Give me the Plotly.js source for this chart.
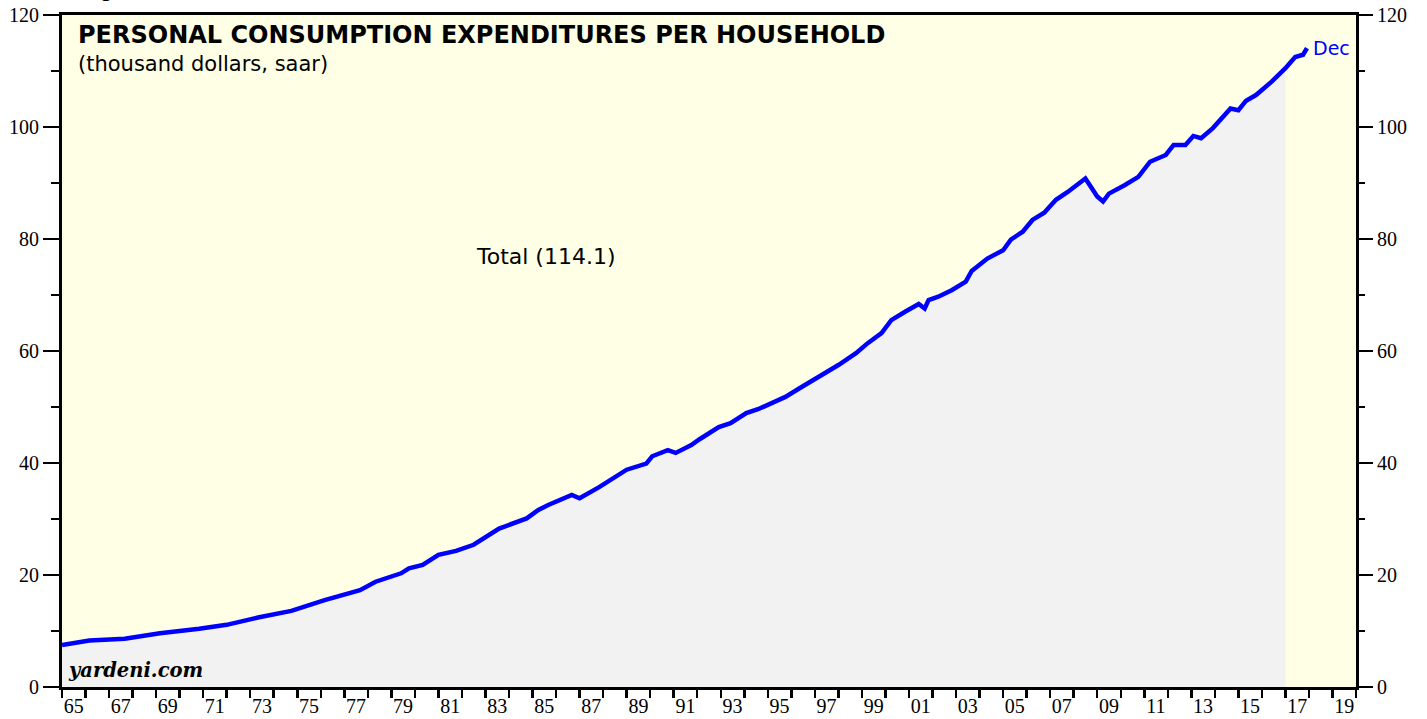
<!DOCTYPE html>
<html>
<head>
<meta charset="utf-8">
<script src="https://cdn.plot.ly/plotly-3.0.1.min.js"></script>
<style>html,body{margin:0;padding:0;background:#fff;}#chart{width:1427px;height:719px;}</style>
</head>
<body>
<div id="chart"></div>
<script>
const dates = [
"1965-01","1966-03","1967-09","1969-03","1970-11","1972-01","1973-05","1974-10","1976-03","1977-09",
"1978-05","1979-06","1979-10","1980-05","1981-01","1981-10","1982-07","1983-08","1984-10","1985-04",
"1985-09","1986-09","1987-01","1987-11","1989-01","1989-11","1990-02","1990-10","1991-02","1991-10",
"1992-02","1992-12","1993-06","1994-02","1994-08","1995-03","1995-10","1996-05","1997-03","1998-01",
"1998-10","1999-04","1999-11","2000-04","2000-11","2001-06","2001-09","2001-11","2002-04","2002-11",
"2003-06","2003-09","2004-05","2005-01","2005-05","2005-11","2006-04","2006-10","2007-04","2007-10",
"2008-07","2009-01","2009-04","2009-07","2010-03","2010-10","2011-04","2011-12","2012-04","2012-10",
"2013-02","2013-06","2013-12","2014-05","2014-09","2015-01","2015-05","2015-10","2016-06","2017-01",
"2017-06","2017-10","2017-12"];
const totalValues = [
7.5,8.3,8.6,9.6,10.4,11.1,12.4,13.6,15.5,17.3,
18.8,20.3,21.2,21.8,23.6,24.3,25.4,28.3,30.1,31.6,
32.5,34.3,33.7,35.7,38.8,39.9,41.2,42.3,41.8,43.2,
44.2,46.4,47.1,48.9,49.6,50.7,51.8,53.3,55.3,57.5,
59.6,61.4,63.2,65.5,67.0,68.4,67.6,69.1,69.7,70.9,
72.4,74.3,76.5,78.0,79.9,81.3,83.4,84.7,87.0,88.4,
90.8,87.6,86.7,88.1,89.6,91.1,93.8,95.0,96.8,96.8,
98.4,98.0,99.8,101.7,103.3,103.0,104.7,105.7,108.1,110.5,
112.5,112.9,114.1];
// shaded area ends at this date
const shadeEnd = "2017-01";
const yearStart = 1965, yearEnd = 2020;
const yTicks = [0,20,40,60,80,100,120];
const lastLabel = "Dec";
const seriesLabel = "Total (114.1)";

const shadeIdx = dates.indexOf(shadeEnd);
const shadeX = dates.slice(0, shadeIdx + 1);
const shadeY = totalValues.slice(0, shadeIdx + 1);

const yearTicks = [], labelTicks = [], labelText = [];
for (let y = yearStart; y <= yearEnd; y++) {
  yearTicks.push(y + "-01-01");
  if (y % 2 === 1 && y < yearEnd) {
    labelTicks.push(y + "-07-02");
    labelText.push(String(y % 100).padStart(2, "0"));
  }
}
const xRange = [yearStart + "-01-01", yearEnd + "-01-01"];

const tickFont = {family: "Liberation Serif, Times New Roman, serif", size: 20, color: "#000"};
const sans = "DejaVu Sans, Liberation Sans, Arial, sans-serif";

const traces = [
  {x: shadeX, y: shadeY, type: "scatter", mode: "lines", fill: "tozeroy",
   fillcolor: "#f2f2f2", line: {width: 0, color: "rgba(0,0,0,0)"}, hoverinfo: "skip",
   xaxis: "x", yaxis: "y", showlegend: false},
  {x: dates, y: totalValues, type: "scatter", mode: "lines",
   line: {color: "#0000ff", width: 4.5}, xaxis: "x2", yaxis: "y2", showlegend: false}
];

const layout = {
  width: 1427, height: 719,
  margin: {l: 62, r: 71, t: 15, b: 32},
  paper_bgcolor: "#ffffff",
  plot_bgcolor: "#ffffe6",
  showlegend: false,
  xaxis: {type: "date", range: xRange, tickmode: "array", tickvals: yearTicks,
    ticktext: yearTicks.map(() => ""), ticks: "outside", ticklen: 8, tickwidth: 2.5,
    tickcolor: "#000", showgrid: false, zeroline: false, showline: true, linewidth: 3,
    linecolor: "#000", mirror: true, showticklabels: false},
  xaxis2: {type: "date", range: xRange, overlaying: "x", anchor: "y", side: "bottom",
    tickmode: "array", tickvals: labelTicks, ticktext: labelText, ticks: "",
    ticklabelstandoff: 5,
    showgrid: false, zeroline: false, showline: false, tickfont: tickFont},
  yaxis: {range: [0, 120], tickmode: "array", tickvals: yTicks, ticks: "outside",
    ticklen: 16, tickwidth: 2, tickcolor: "#000", showgrid: false, zeroline: false,
    showline: true, linewidth: 3, linecolor: "#000", mirror: true, tickfont: tickFont,
    minor: {dtick: 10, tick0: 0, ticks: "outside", ticklen: 8, tickwidth: 2, tickcolor: "#000", showgrid: false}},
  yaxis2: {range: [0, 120], overlaying: "y", anchor: "x", side: "right", tickmode: "array",
    tickvals: yTicks, ticks: "outside", ticklen: 16, tickwidth: 2, tickcolor: "#000",
    showgrid: false, zeroline: false, showline: false, tickfont: tickFont,
    minor: {dtick: 10, tick0: 0, ticks: "outside", ticklen: 8, tickwidth: 2, tickcolor: "#000", showgrid: false}},
  annotations: [
    {text: "<b>Figure 1.</b>", xref: "paper", yref: "paper", x: 0.0124, y: 1, xanchor: "left",
     yanchor: "bottom", yshift: 12, showarrow: false,
     font: {family: "Liberation Sans, Arial, sans-serif", size: 22, color: "#000"}},
    {text: "<b>PERSONAL CONSUMPTION EXPENDITURES PER HOUSEHOLD</b>", xref: "paper", yref: "paper",
     x: 0.0105, y: 0.970, xanchor: "left", yanchor: "middle", showarrow: false,
     font: {family: sans, size: 24, color: "#000"}},
    {text: "(thousand dollars, saar)", xref: "paper", yref: "paper",
     x: 0.0105, y: 0.927, xanchor: "left", yanchor: "middle", showarrow: false,
     font: {family: sans, size: 21, color: "#000"}},
    {text: seriesLabel, xref: "paper", yref: "paper", x: 0.374, y: 0.640,
     xanchor: "center", yanchor: "middle", showarrow: false,
     font: {family: sans, size: 22, color: "#000"}},
    {text: lastLabel, xref: "x2", yref: "y2", x: dates[dates.length - 1], y: totalValues[totalValues.length - 1],
     xanchor: "left", yanchor: "middle", xshift: 4, showarrow: false,
     font: {family: sans, size: 19, color: "#0000ff"}},
    {text: "<b><i>yardeni.com</i></b>", xref: "paper", yref: "paper", x: 0.003, y: 0.025,
     xanchor: "left", yanchor: "middle", showarrow: false,
     font: {family: "DejaVu Serif, Liberation Serif, serif", size: 19.5, color: "#000"}}
  ]
};

Plotly.newPlot("chart", traces, layout, {displayModeBar: false, staticPlot: true});
</script>
</body>
</html>
